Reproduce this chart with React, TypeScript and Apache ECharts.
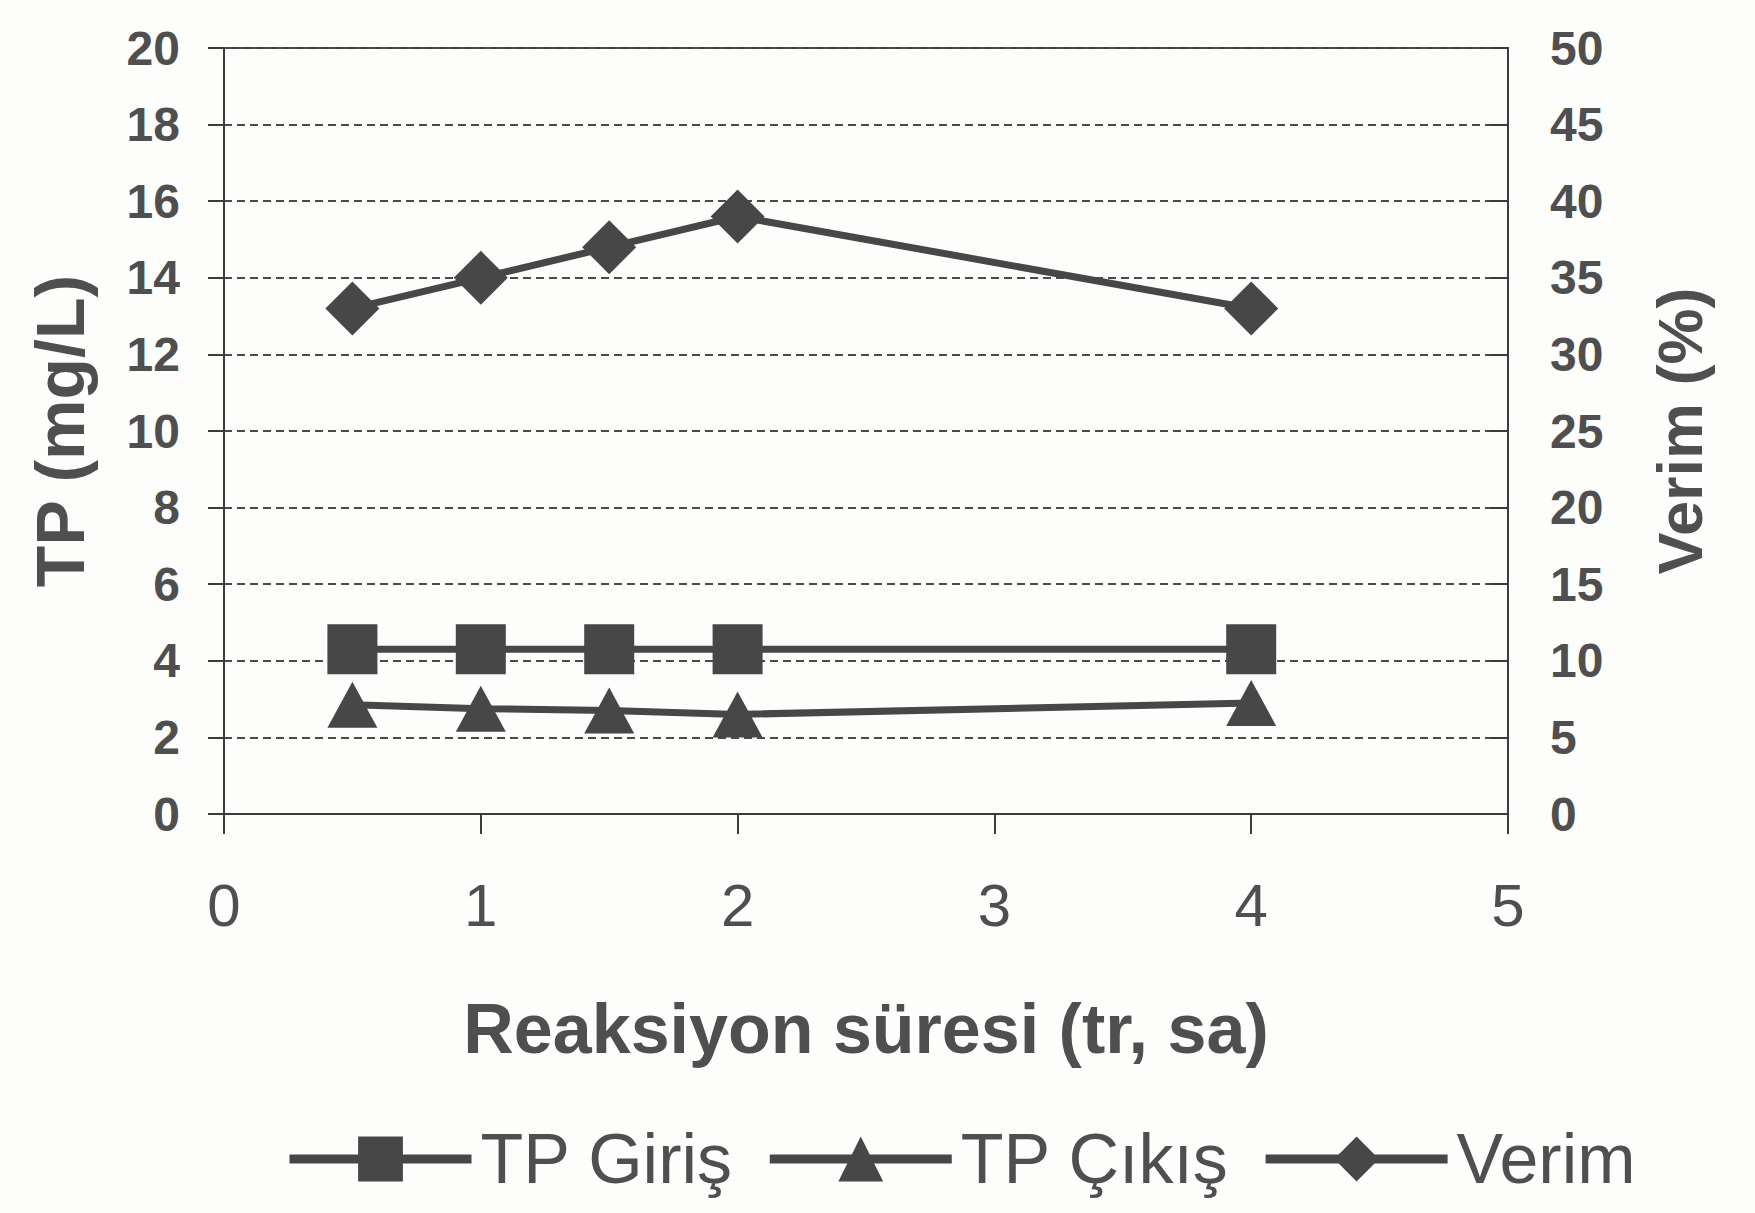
import React, { useEffect, useRef } from "react";
import * as echarts from "echarts";

const xValues = [0.5, 1, 1.5, 2, 4];
const tpGiris = [4.3, 4.3, 4.3, 4.3, 4.3];
const tpCikis = [2.85, 2.75, 2.7, 2.6, 2.9];
const verim = [33, 35, 37, 39, 33];
const seriesNames = ["TP Giriş", "TP Çıkış", "Verim"];
const xTitle = "Reaksiyon süresi (tr, sa)";
const yLeftTitle = "TP (mg/L)";
const yRightTitle = "Verim (%)";

const FONT = "'Liberation Sans', Arial, sans-serif";
const DARK = "#474747";
const TEXT = "#4f4f4f";

function pairs(ys: number[]) {
  return xValues.map((x, i) => [x, ys[i]]);
}

export default function App() {
  const ref = useRef<HTMLDivElement>(null);
  useEffect(() => {
    if (!ref.current) return;
    const chart = echarts.init(ref.current, undefined, { renderer: "svg" });
    const lineStyle = { color: DARK, width: 7 };
    chart.setOption({
      animation: false,
      backgroundColor: "#fdfdfc",
      textStyle: { fontFamily: FONT },
      grid: {
        left: 224,
        right: 247,
        top: 48,
        bottom: 399,
        show: true,
        borderColor: "#3c3c3c",
        borderWidth: 2,
        containLabel: false,
      },
      legend: {
        left: 280,
        top: 1119,
        itemWidth: 182,
        itemHeight: 56,
        itemGap: 32,
        data: seriesNames,
        textStyle: { fontFamily: FONT, fontSize: 70, color: TEXT, padding: [0, 0, 0, 4] },
        lineStyle: { width: 9, color: DARK },
      },
      xAxis: {
        type: "value",
        min: 0,
        max: 5,
        interval: 1,
        name: xTitle,
        nameLocation: "middle",
        nameGap: 180,
        nameTextStyle: { fontFamily: FONT, fontSize: 70, fontWeight: "bold", color: TEXT },
        axisLine: { show: true, lineStyle: { color: "#3c3c3c", width: 2 } },
        axisTick: { show: true, inside: false, length: 20, lineStyle: { color: "#3c3c3c", width: 2 } },
        axisLabel: { fontFamily: FONT, fontSize: 60, color: TEXT, margin: 61 },
        splitLine: { show: false },
      },
      yAxis: [
        {
          type: "value",
          min: 0,
          max: 20,
          interval: 2,
          position: "left",
          name: yLeftTitle,
          nameLocation: "middle",
          nameRotate: 90,
          nameGap: 130,
          nameTextStyle: { fontFamily: FONT, fontSize: 68, fontWeight: "bold", color: TEXT },
          axisLine: { show: true, lineStyle: { color: "#3c3c3c", width: 2 } },
          axisTick: { show: true, inside: false, length: 16, lineStyle: { color: "#3c3c3c", width: 2 } },
          axisLabel: { fontFamily: FONT, fontSize: 48, fontWeight: "bold", color: TEXT, margin: 44 },
          splitLine: { show: true, lineStyle: { color: "#4a4a4a", width: 2, type: [8, 5] } },
        },
        {
          type: "value",
          min: 0,
          max: 50,
          interval: 5,
          position: "right",
          name: yRightTitle,
          nameLocation: "middle",
          nameRotate: 90,
          nameGap: 140,
          nameTextStyle: { fontFamily: FONT, fontSize: 63, fontWeight: "bold", color: TEXT },
          axisLine: { show: true, lineStyle: { color: "#3c3c3c", width: 2 } },
          axisTick: { show: true, inside: true, length: 18, lineStyle: { color: "#3c3c3c", width: 2 } },
          axisLabel: { fontFamily: FONT, fontSize: 48, fontWeight: "bold", color: TEXT, margin: 42 },
          splitLine: { show: false },
        },
      ],
      series: [
        {
          name: seriesNames[0],
          type: "line",
          yAxisIndex: 0,
          data: pairs(tpGiris),
          symbol: "rect",
          symbolSize: 50,
          lineStyle,
          itemStyle: { color: DARK },
        },
        {
          name: seriesNames[1],
          type: "line",
          yAxisIndex: 0,
          data: pairs(tpCikis),
          symbol: "triangle",
          symbolSize: [50, 46],
          lineStyle,
          itemStyle: { color: DARK },
        },
        {
          name: seriesNames[2],
          type: "line",
          yAxisIndex: 1,
          data: pairs(verim),
          symbol: "diamond",
          symbolSize: [54, 54],
          lineStyle,
          itemStyle: { color: DARK },
        },
      ],
    });
    return () => chart.dispose();
  }, []);
  return (
    <div
      ref={ref}
      style={{ position: "fixed", left: 0, top: 0, width: 1755, height: 1213 }}
    />
  );
}
